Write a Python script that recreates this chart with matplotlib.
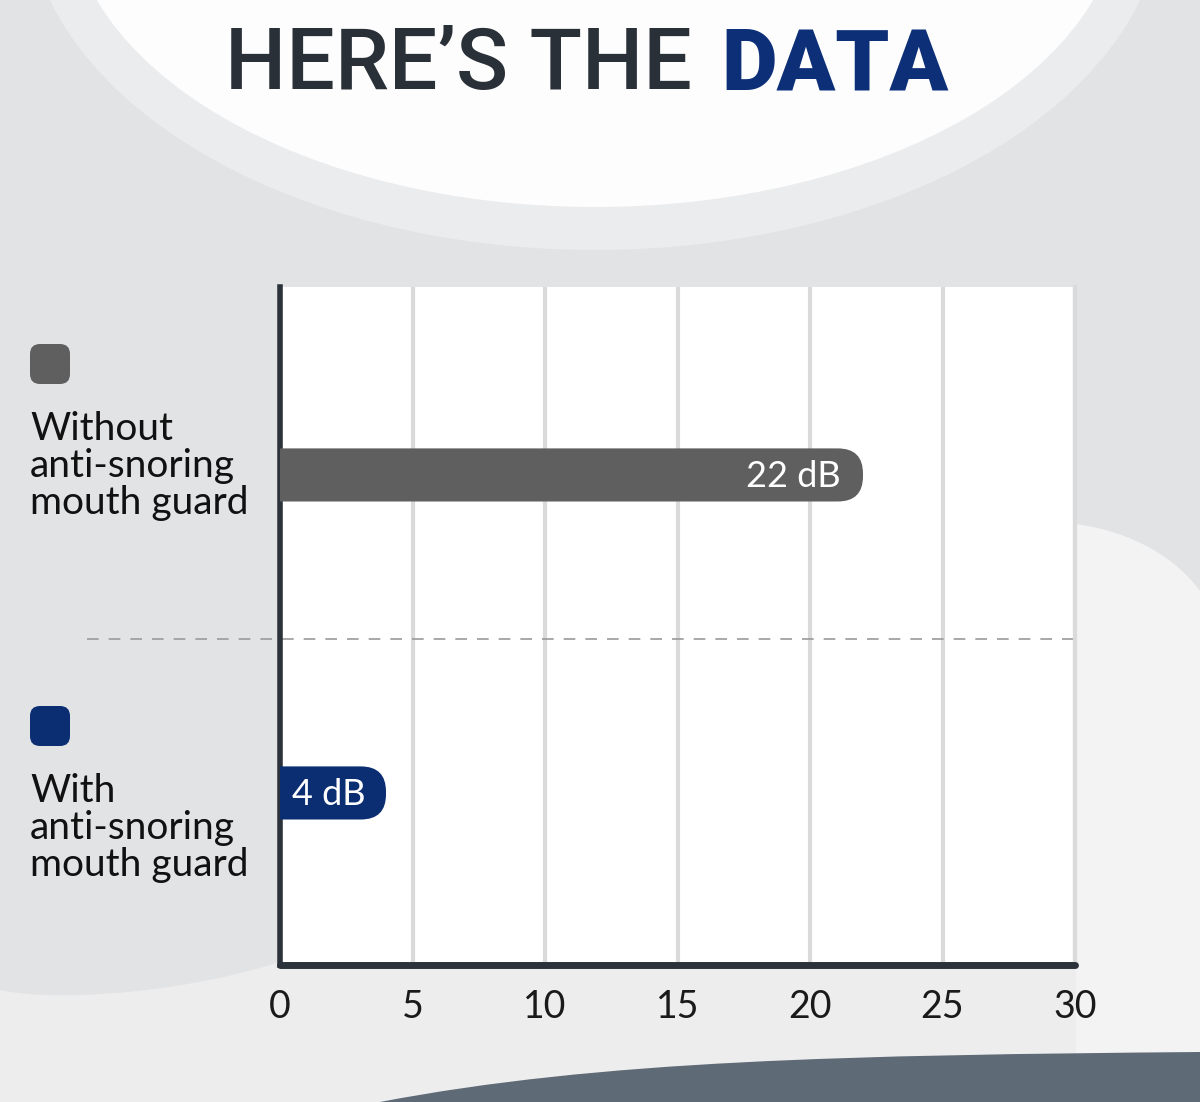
import matplotlib.pyplot as plt
from matplotlib.patches import FancyBboxPatch, Ellipse, PathPatch
from matplotlib.path import Path

# data
categories = ['Without\nanti-snoring\nmouth guard', 'With\nanti-snoring\nmouth guard']
values = [22, 4]
value_labels = ['22 dB', '4 dB']
bar_colors = ['#5f5f5f', '#0b2d72']
ticks = [0, 5, 10, 15, 20, 25, 30]

W, H = 1200, 1102
fig = plt.figure(figsize=(W / 100, H / 100), dpi=100, facecolor='#e2e3e5')

# background decoration, in pixel coordinates (y down)
bg = fig.add_axes([0, 0, 1, 1], zorder=0)
bg.set_xlim(0, W)
bg.set_ylim(H, 0)
bg.axis('off')
bg.add_patch(Ellipse((595, -100), 2 * 569, 2 * 350, fc='#ebecee', ec='none'))
bg.add_patch(Ellipse((595, -100), 2 * 527, 2 * 307, fc='#fdfdfd', ec='none'))
# lighter band along the bottom
low = Path([(0, 990), (60, 1003), (200, 992), (300, 955),
            (1200, 955), (1200, 1102), (0, 1102), (0, 990)],
           [Path.MOVETO, Path.CURVE4, Path.CURVE4, Path.CURVE4,
            Path.LINETO, Path.LINETO, Path.LINETO, Path.CLOSEPOLY])
bg.add_patch(PathPatch(low, fc='#ededee', ec='none'))
# soft white blob on the right
blob = Path([(1076, 1102), (1076, 524), (1120, 530), (1170, 550), (1200, 591),
             (1200, 1102), (1076, 1102)],
            [Path.MOVETO, Path.LINETO, Path.CURVE4, Path.CURVE4, Path.CURVE4,
             Path.LINETO, Path.CLOSEPOLY])
bg.add_patch(PathPatch(blob, fc='#f3f3f4', ec='none'))
# dark wave at the bottom
wave = Path([(380, 1102), (600, 1060), (850, 1055), (1200, 1052),
             (1200, 1102), (380, 1102)],
            [Path.MOVETO, Path.CURVE4, Path.CURVE4, Path.CURVE4,
             Path.LINETO, Path.CLOSEPOLY])
bg.add_patch(PathPatch(wave, fc='#5e6a75', ec='none'))

# title
bg.text(692, 89, 'HERE\u2019S THE', ha='right', va='baseline', fontsize=62,
        fontweight='medium', color='#2a3038', family=['Roboto', 'DejaVu Sans'])
bg.text(721, 89, 'DATA', ha='left', va='baseline', fontsize=62, fontweight='black',
        color='#0d2f78', family=['Roboto', 'DejaVu Sans'])

# legend squares + category labels
label_y = [466, 828]
square_y = [344, 706]
for cat, col, ly, sy in zip(categories, bar_colors, label_y, square_y):
    bg.add_patch(FancyBboxPatch((30, sy), 40, 40, boxstyle='round,pad=0,rounding_size=10',
                                fc=col, ec='none'))
    bg.text(30, ly, cat, ha='left', va='center', fontsize=28, linespacing=1.03,
            color='#111111', family=['Lato', 'DejaVu Sans'])

# main chart
ax = fig.add_axes([280 / W, 1 - 965 / H, 795 / W, 678 / H], zorder=2)
ax.set_facecolor('white')
ax.set_xlim(0, 30)
ax.set_ylim(-0.541, 1.591)
ax.set_xticks(ticks)
ax.set_yticks([])
ax.grid(axis='x', color='#dadada', lw=3)
ax.set_axisbelow(True)
ax.spines['top'].set_visible(False)
ax.spines['right'].set_color('#dadada')
ax.spines['right'].set_linewidth(3)
ax.spines['left'].set_color('#2b323a')
ax.spines['left'].set_linewidth(4)
ax.spines['bottom'].set_color('#2b323a')
ax.spines['bottom'].set_linewidth(5)
ax.spines['bottom'].set_capstyle('round')
ax.tick_params(axis='x', length=0, pad=17, labelsize=27, labelcolor='#1a1a1a')
for lab in ax.get_xticklabels():
    lab.set_family(['Lato', 'DejaVu Sans'])

ypos = [1, 0]
bar_h = 0.167
for v, y, col, lab in zip(values, ypos, bar_colors, value_labels):
    ax.add_patch(FancyBboxPatch((-2, y - bar_h / 2), v + 2, bar_h,
                                boxstyle='round,pad=0,rounding_size=0.95',
                                mutation_aspect=1 / 12, fc=col, ec='none', zorder=3))
    if v > 10:
        ax.text(v - 0.85, y - 0.005, lab, ha='right', va='center', fontsize=26, color='white',
                family=['Lato', 'DejaVu Sans'], zorder=4)
    else:
        ax.text(0.45, y - 0.005, lab, ha='left', va='center', fontsize=26, color='white',
                family=['Lato', 'DejaVu Sans'], zorder=4)

# dashed separator between the two groups
ax.plot([-0.243, 1], [0.485, 0.485], transform=ax.get_yaxis_transform(), clip_on=False,
        color='#9a9a9a', lw=1.2, ls=(0, (7, 6)), zorder=2.5)

fig.savefig('out.png', dpi=100, facecolor=fig.get_facecolor())
